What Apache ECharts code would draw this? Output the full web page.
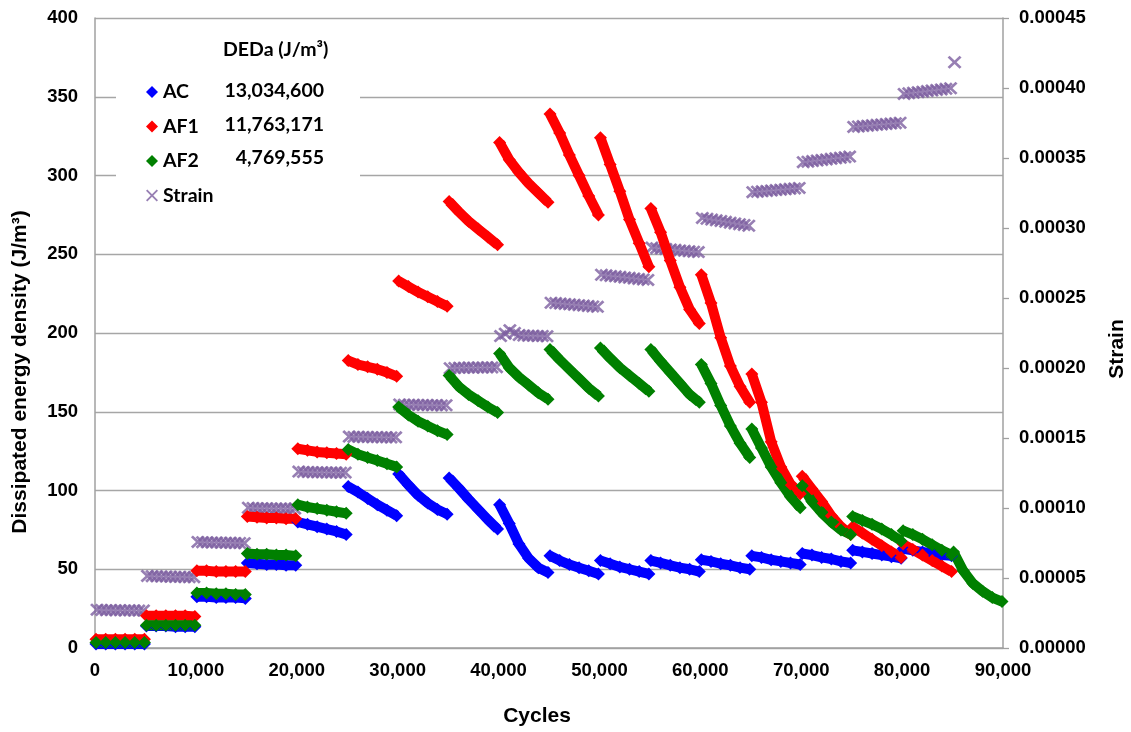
<!DOCTYPE html>
<html>
<head>
<meta charset="utf-8">
<script src="https://cdn.jsdelivr.net/npm/echarts@6/dist/echarts.min.js"></script>
<style>
html,body{margin:0;padding:0;background:#fff;}
#chart{width:1131px;height:732px;}
</style>
</head>
<body>
<div id="chart"></div>
<script>
// ---- data ----
// start cycle of each 5,000-cycle loading block
const segmentStarts = [0,5000,10000,15000,20000,25000,30000,35000,40000,45000,50000,55000,60000,65000,70000,75000,80000,85000];
// cycle offsets inside a block at which the diamond values were read
const cycleOffsets = [100,1060,2020,2980,3940,4900];
// dissipated energy density (J/m3), one row per block
const acValues = [
  [2.5,2.5,2.5,2.5,2.5,2.5],
  [14,14,14,13.5,13.5,13.5],
  [32.5,32.5,32,32,32,31.5],
  [54,53.5,53,53,52.5,52.5],
  [80,78.5,77,75.5,74,72],
  [102.5,99,95,91,87.5,84],
  [110.5,103.5,97,92,88,85],
  [108,101.5,94.5,88,81.5,75.5],
  [91,79,66,57,51,48],
  [58.5,55.5,53,51,49,47],
  [55.5,53.5,51.5,50,48.5,47],
  [55.5,54,52.5,51,50,48.5],
  [56,55,53.5,52.5,51,50],
  [58.5,57.5,56,55,54,53],
  [60,59,57.5,56.5,55,54],
  [62,61,60,59,58,57],
  [63,62,61,60,59,58.5]
];
const af1Values = [
  [5.5,5.5,5.5,5.5,5.5,5.5],
  [20.5,20.5,20.5,20.5,20.5,20],
  [49,49,48.5,48.5,48.5,48.5],
  [83.5,83,82.5,82.5,82,82],
  [126.5,125.5,124.5,124,123.5,123],
  [182.5,180,178.5,177,175,172.5],
  [233,229.5,226,223,220,217],
  [283.5,277,271,266,261,256],
  [321,310,302,295,289,283],
  [339,327,313,300,287,275],
  [324,307,290,272,257,242],
  [279,264,246,229,215,206],
  [237,219,197,179,166,156],
  [174,156,131,115,104,98],
  [109,101,93,84,77,72],
  [77,73,69,65,61,57.5],
  [66,62.5,59,55.5,52,48.5]
];
const af2Values = [
  [3.5,3.5,3.5,3.5,3.5,3.5],
  [14.5,14.5,14.5,14.5,14.5,14.5],
  [35,35,34.5,34.5,34,34],
  [60,59.5,59.5,59,59,58.5],
  [91,89.5,88.5,87.5,86.5,85.5],
  [126,123,121,119,117,115],
  [153,148,144,141,138,135.5],
  [173,166,161,157,153,149.5],
  [187,178,172,167,162,158],
  [189.5,183,177,171,165,160],
  [190.5,184,178,173,168,163],
  [189.5,182,175,168,161,156],
  [180,168,154,141,130,121],
  [139,127,115,105,96,89],
  [103,93,86,80,75,72],
  [83.5,81,78.5,75.5,72,68],
  [74.5,72,69,65.5,62,59],
  [61,49,41,36,32,29.5]
];
// strain, in units of 1e-6 (microstrain), read at these offsets inside each block
const strainOffsets = [200,660,1120,1580,2040,2500,2960,3420,3880,4340,4800];
const strainMicro = [
  [27.4,27.2,27.0,27.1,26.9,27.0,26.8,26.9,26.8,26.7,26.8],
  [51.5,51.3,51.2,51.0,51.1,50.9,50.8,50.9,50.7,50.6,50.6],
  [75.8,75.6,75.5,75.3,75.4,75.2,75.1,75.2,75.0,75.0,74.9],
  [100.2,100.0,99.9,99.8,99.9,99.7,99.6,99.7,99.6,99.5,99.6],
  [126.0,125.8,125.7,125.6,125.5,125.6,125.4,125.3,125.4,125.2,125.3],
  [151.0,150.8,150.9,150.7,150.8,150.6,150.7,150.5,150.6,150.4,150.5],
  [174.0,173.8,173.7,173.8,173.6,173.5,173.6,173.4,173.5,173.3,173.4],
  [199.8,200.0,200.2,200.1,200.3,200.2,200.4,200.3,200.5,200.4,200.6],
  [222.8,224.5,227.0,225.0,223.5,223.2,223.0,223.1,222.8,222.9,222.7],
  [246.6,246.4,246.0,245.8,245.5,245.2,244.9,244.6,244.3,244.0,243.7],
  [266.6,266.2,265.8,265.5,265.1,264.7,264.4,264.0,263.6,263.3,262.9],
  [286.0,285.6,285.3,285.0,284.7,284.4,284.0,283.7,283.4,283.1,282.8],
  [307.2,306.6,306.0,305.5,305.0,304.4,303.8,303.3,302.7,302.2,301.6],
  [325.6,325.9,326.2,326.5,326.8,327.1,327.4,327.7,328.0,328.3,328.6],
  [347.0,347.4,347.8,348.2,348.6,349.0,349.4,349.8,350.2,350.6,351.0],
  [372.2,372.5,372.8,373.1,373.4,373.7,374.0,374.3,374.6,374.9,375.2],
  [395.8,396.2,396.6,397.0,397.4,397.8,398.2,398.6,399.0,399.4,399.8]
];
const strainLastPoint = [85200, 418.4];
// legend table
const seriesNames = ['AC','AF1','AF2','Strain'];
const dedaValues = ['13,034,600','11,763,171','4,769,555'];
// axes
const xTicks = {min:0, max:90000, interval:10000};
const leftTicks = {min:0, max:400, interval:50};
const rightTicksMicro = {min:0, max:450, interval:50};

// ---- build ----
function buildDiamondData(values){
  const out = [];
  values.forEach((seg,i)=>{
    seg.forEach((v,j)=>out.push([segmentStarts[i]+cycleOffsets[j], v]));
    out.push([segmentStarts[i]+4995, '-']);
  });
  return out;
}
function buildStrainData(){
  const out = [];
  strainMicro.forEach((seg,i)=>{
    seg.forEach((v,j)=>out.push([segmentStarts[i]+strainOffsets[j], v]));
  });
  out.push(strainLastPoint);
  return out;
}

const FONT = '"Liberation Sans", Arial, sans-serif';
const LFONT = 'Lato, "Liberation Sans", sans-serif';
const GRID_C = '#a6a6a6';
const AXIS_C = '#a0a0a0';
const crossPath = 'path://M0,1.3L1.3,0L6,4.7L10.7,0L12,1.3L7.3,6L12,10.7L10.7,12L6,7.3L1.3,12L0,10.7L4.7,6Z';
const crossPathBold = 'path://M0,1.7L1.7,0L6,4.3L10.3,0L12,1.7L7.7,6L12,10.3L10.3,12L6,7.7L1.7,12L0,10.3L4.3,6Z';
const colors = ['#0000ff','#ff0000','#008000','#7d5fa0'];

function diamondSeries(name, values, color){
  return {
    name, type:'line', yAxisIndex:0,
    data: buildDiamondData(values),
    symbol:'diamond', symbolSize:13, showSymbol:true, showAllSymbol:true,
    connectNulls:false,
    lineStyle:{color, width:10},
    itemStyle:{color},
    emphasis:{disabled:true},
    animation:false
  };
}

const chart = echarts.init(document.getElementById('chart'), null, {renderer:'canvas'});
chart.setOption({
  backgroundColor:'#ffffff',
  animation:false,
  grid:{left:95, right:128, top:18, bottom:84, containLabel:false},
  xAxis:{
    type:'value', min:xTicks.min, max:xTicks.max, interval:xTicks.interval,
    axisLine:{show:true, onZero:false, lineStyle:{color:AXIS_C, width:1.5}},
    axisTick:{show:false},
    splitLine:{show:false},
    axisLabel:{margin:13, color:'#000', fontFamily:FONT, fontWeight:'bold', fontSize:18.5,
      formatter:v=>Number(v).toLocaleString('en-US')}
  },
  yAxis:[
    {
      type:'value', min:leftTicks.min, max:leftTicks.max, interval:leftTicks.interval,
      axisLine:{show:true, lineStyle:{color:AXIS_C, width:1.5}},
      axisTick:{show:false},
      splitLine:{show:true, lineStyle:{color:GRID_C, width:1.3}},
      axisLabel:{margin:17, color:'#000', fontFamily:FONT, fontWeight:'bold', fontSize:18.5}
    },
    {
      type:'value', position:'right', min:rightTicksMicro.min, max:rightTicksMicro.max, interval:rightTicksMicro.interval,
      axisLine:{show:true, lineStyle:{color:AXIS_C, width:1.5}},
      axisTick:{show:true, inside:false, length:6, lineStyle:{color:AXIS_C, width:1.3}},
      splitLine:{show:false},
      axisLabel:{margin:16, color:'#000', fontFamily:FONT, fontWeight:'bold', fontSize:18.5,
        formatter:v=>(v/1e6).toFixed(5)}
    }
  ],
  legend:{
    show:true, orient:'vertical', left:141, top:77,
    itemWidth:12, itemHeight:12, itemGap:14.5, itemTextGap:5,
    selectedMode:false,
    textStyle:{color:'#000', fontFamily:LFONT, fontWeight:'bold', fontSize:19.5, lineHeight:20},
    data:[
      {name:seriesNames[0], icon:'diamond'},
      {name:seriesNames[1], icon:'diamond'},
      {name:seriesNames[2], icon:'diamond'},
      {name:seriesNames[3], icon:crossPath}
    ]
  },
  graphic:[
    {type:'rect', z:1, silent:true, shape:{x:116, y:24, width:244, height:190}, style:{fill:'#ffffff'}},
    {type:'text', z:10, left:223, top:40, style:{text:'DEDa (J/m³)', fill:'#000', font:'bold 19.5px '+LFONT}},
    {type:'text', z:10, x:324, y:91, style:{text:dedaValues[0], fill:'#000', font:'bold 19.5px '+LFONT, textAlign:'right', textVerticalAlign:'middle'}},
    {type:'text', z:10, x:324, y:124.5, style:{text:dedaValues[1], fill:'#000', font:'bold 19.5px '+LFONT, textAlign:'right', textVerticalAlign:'middle'}},
    {type:'text', z:10, x:324, y:158, style:{text:dedaValues[2], fill:'#000', font:'bold 19.5px '+LFONT, textAlign:'right', textVerticalAlign:'middle'}},
    {type:'text', z:10, x:20, y:372, rotation:Math.PI/2, style:{text:'Dissipated energy density (J/m³)', fill:'#000', font:'bold 21px '+FONT, textAlign:'center', textVerticalAlign:'middle'}},
    {type:'text', z:10, x:1117, y:349, rotation:Math.PI/2, style:{text:'Strain', fill:'#000', font:'bold 21px '+FONT, textAlign:'center', textVerticalAlign:'middle'}},
    {type:'text', z:10, x:537, y:716, style:{text:'Cycles', fill:'#000', font:'bold 21px '+FONT, textAlign:'center', textVerticalAlign:'middle'}}
  ],
  series:[
    diamondSeries(seriesNames[0], acValues, colors[0]),
    diamondSeries(seriesNames[1], af1Values, colors[1]),
    diamondSeries(seriesNames[2], af2Values, colors[2]),
    {
      name:seriesNames[3], type:'scatter', yAxisIndex:1,
      data: buildStrainData(),
      symbol:crossPathBold, symbolSize:[14,13],
      itemStyle:{color:colors[3]},
      emphasis:{disabled:true},
      animation:false
    }
  ]
});
</script>
</body>
</html>
